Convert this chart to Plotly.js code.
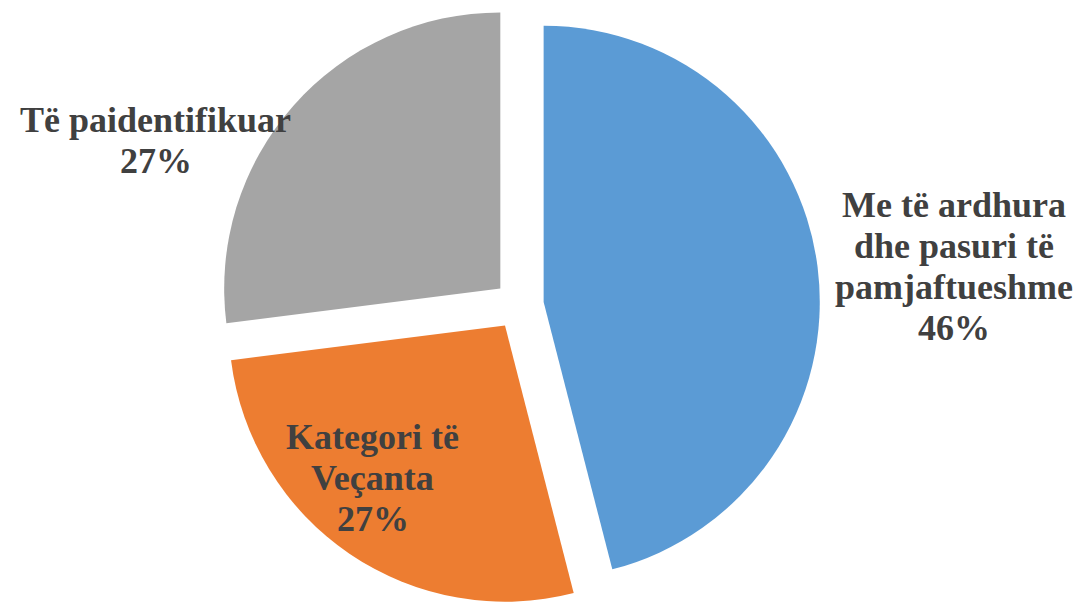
<!DOCTYPE html>
<html>
<head>
<meta charset="utf-8">
<script src="https://cdn.plot.ly/plotly-3.0.1.min.js"></script>
<style>
    body { margin: 0; background: #ffffff; overflow: hidden; }
    #pieChart { width: 1083px; height: 602px; position: relative; top: 4px; }
</style>
</head>
<body>
<div id="pieChart"></div>
<script>
var categories = ["Me të ardhura<br>dhe pasuri të<br>pamjaftueshme", "Kategori të<br>Veçanta", "Të paidentifikuar"];
var shares = [46, 27, 27];
var sliceColors = ["#5B9BD5", "#ED7D31", "#A5A5A5"];

// where each data label block is centred (paper coords), like the excel layout
var labelX = [0.881, 0.3444, 0.144];
var labelY = [0.564, 0.2126, 0.773];

var lineGap = 41; // excel line spacing is tighter than plotly's 1.3em
var labelFont = {family: "Liberation Serif, Times New Roman, serif", size: 36, color: "#404040", weight: "bold"};

var annotations = [];
for (let i = 0; i < categories.length; i++) {
    let lines = categories[i].split("<br>");
    lines.push(shares[i] + "%");
    let n = lines.length;
    for (let k = 0; k < n; k++) {
        annotations.push({
            xref: "paper", yref: "paper",
            x: labelX[i], y: labelY[i],
            yshift: ((n - 1) / 2 - k) * lineGap,
            xanchor: "center", yanchor: "middle",
            text: lines[k],
            showarrow: false,
            font: labelFont
        });
    }
}

var data = [{
    type: "pie",
    labels: categories,
    values: shares,
    sort: false,
    direction: "clockwise",
    rotation: 0,
    pull: [0.09, 0.09, 0.09],
    marker: {colors: sliceColors, line: {width: 0}},
    textinfo: "none",
    hoverinfo: "label+percent",
    domain: {x: [0, 0.9584], y: [0, 1]}
}];

var layout = {
    width: 1083,
    height: 602,
    margin: {l: 0, r: 0, t: 0, b: 0},
    showlegend: false,
    paper_bgcolor: "#ffffff",
    plot_bgcolor: "#ffffff",
    annotations: annotations
};

Plotly.newPlot("pieChart", data, layout, {displayModeBar: false, staticPlot: true});
</script>
</body>
</html>
